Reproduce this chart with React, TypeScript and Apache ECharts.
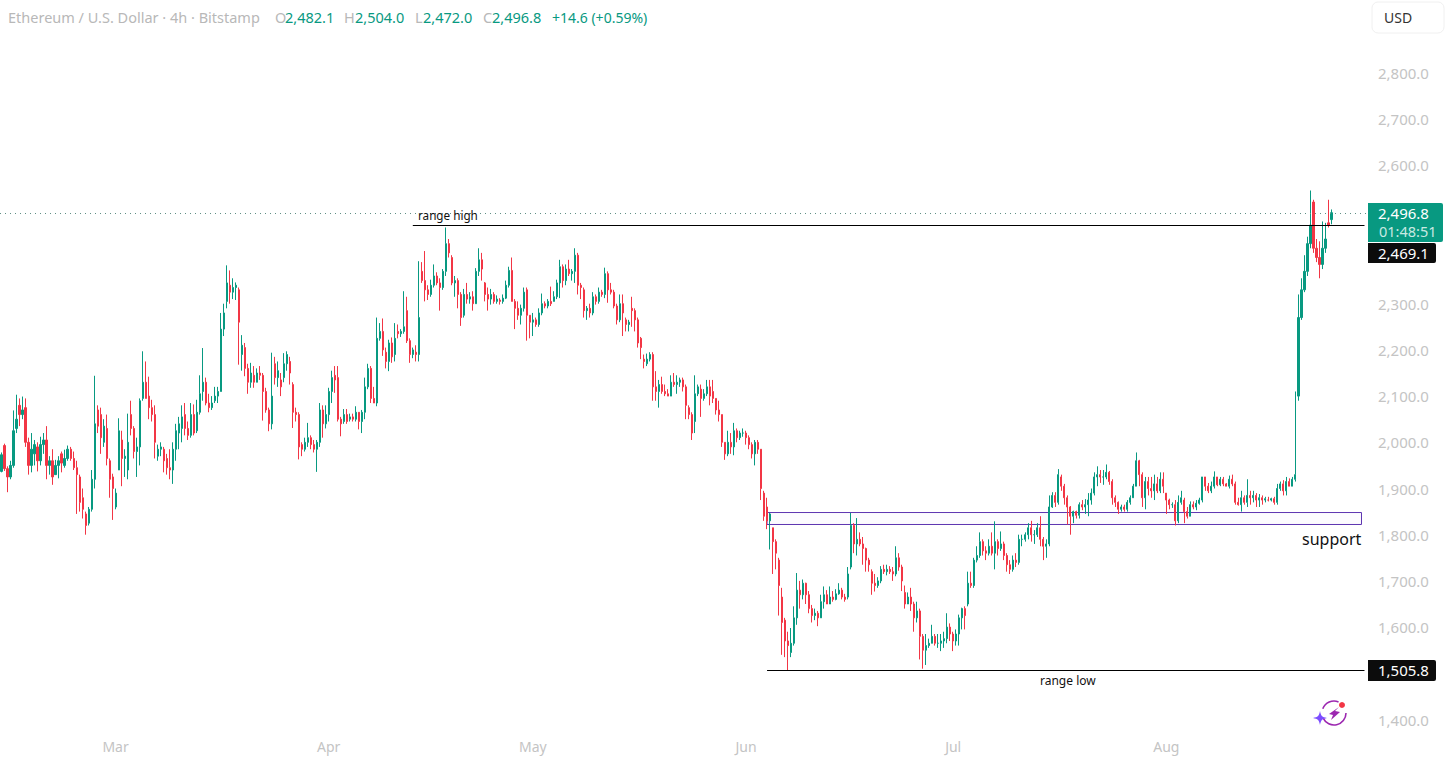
import React, { useEffect, useRef } from "react";
import * as echarts from "echarts";

// [open, close, low, high]
const febCandles = [
[1937,1973,1935,1978],[1993,1943,1938,1997],[1943,1925,1892,1948],[1925,1950,1920,1960],[1950,2025,1945,2069],[2030,2050,2020,2103],[2080,2060,2035,2095],[2060,2070,2050,2099],[2075,2000,1990,2095],[2000,1950,1930,2010],
[1950,1985,1935,2020],[1975,1995,1950,2005],[1990,1960,1937,2000],[1960,1995,1950,2012],[1995,2005,1975,2020],[2005,1950,1920,2035],[1950,1960,1930,1970],[1960,1925,1908,1985],[1930,1950,1930,1962],[1950,1960,1922,1970],
[1975,1955,1935,1980],[1950,1965,1945,1984],[1965,1985,1960,1993],[1985,1965,1960,1990],[1965,1945,1940,1980],[1945,1930,1845,1960],[1925,1870,1850,1930],[1880,1855,1835,1900],[1845,1820,1800,1850],[1825,1855,1820,1860],
[1855,1920,1850,1940],[1920,2040,1900,2144],[2070,2035,2020,2080],[2060,2010,1975,2075],[2000,2035,1990,2050],[2030,1965,1950,2060],[1960,1920,1880,1965],[1925,1900,1832,1932],
];
const marCandles = [
[1860,1890,1855,1900],[1940,2025,1940,2052],[2005,1965,1905,2025],[1965,1970,1925,1985],[1940,2000,1920,2062],[2060,2030,2015,2090],[2030,1980,1965,2035],[1980,1990,1925,2010],[1990,2090,1950,2095],[2095,2130,2090,2197],
[2130,2095,2095,2175],[2100,2075,2050,2142],[2075,2060,2045,2092],[2060,2000,1965,2080],[1970,1985,1960,1995],[1985,1990,1970,2000],[1985,1960,1935,1990],[1965,1945,1930,1975],[1945,1940,1920,1985],[1940,1985,1910,2000],
[1985,2025,1960,2040],[2020,2040,1985,2055],[2030,2055,2000,2080],[2060,2030,2015,2085],[2030,2015,2005,2045],[2015,2060,2010,2085],[2060,2020,2015,2082],[2025,2065,2020,2092],[2065,2105,2060,2145],[2110,2130,2090,2204],
[2130,2085,2080,2140],[2085,2075,2065,2105],[2075,2085,2070,2100],[2090,2100,2085,2120],[2100,2110,2085,2120],[2110,2245,2110,2280],[2245,2280,2230,2300],[2305,2345,2290,2383],[2340,2325,2300,2372],[2325,2335,2310,2355],
[2335,2340,2308,2346],[2330,2260,2168,2335],[2190,2210,2155,2232],[2205,2160,2143,2215],[2160,2130,2105,2170],[2130,2150,2118,2172],[2145,2130,2118,2165],[2130,2150,2130,2160],[2150,2145,2135,2165],[2145,2110,2047,2150],
[2110,2070,2064,2118],[2070,2040,2024,2075],[2040,2100,2028,2194],[2170,2140,2125,2185],[2140,2155,2120,2175],[2135,2120,2100,2150],[2140,2170,2130,2193],[2170,2190,2155,2197],[2175,2150,2125,2185],[2125,2065,2031,2130],
[2065,2060,2045,2075],[2060,1990,1963,2065],[1995,1985,1970,2000],[1985,2000,1980,2010],[2000,2010,1990,2042],[2010,1995,1985,2015],[1995,1985,1978,2005],[1985,2000,1936,2005],[2000,2070,1990,2085],[2070,2040,2010,2080],
[2040,2060,2030,2080],
];
const aprCandles = [
[2060,2110,2045,2118],[2110,2140,2085,2155],[2145,2135,2107,2165],[2140,2050,2045,2165],[2050,2040,2013,2055],[2045,2060,2040,2072],[2060,2045,2040,2072],[2050,2055,2045,2062],[2055,2050,2045,2062],[2050,2065,2045,2078],
[2065,2045,2028,2065],[2045,2065,2020,2070],[2065,2120,2050,2140],[2120,2160,2115,2170],[2160,2095,2085,2165],[2095,2085,2085,2120],[2085,2225,2078,2270],[2225,2240,2220,2258],[2240,2200,2187,2268],[2195,2175,2160,2205],
[2175,2215,2154,2222],[2215,2185,2172,2227],[2190,2225,2175,2258],[2240,2235,2225,2255],[2235,2240,2228,2245],[2240,2250,2235,2327],[2285,2220,2215,2315],[2220,2190,2172,2225],[2190,2200,2182,2205],[2195,2190,2175,2210],
[2190,2270,2175,2392],[2370,2350,2345,2390],[2350,2330,2305,2414],[2330,2320,2308,2340],[2320,2340,2315,2352],[2340,2360,2335,2385],[2360,2345,2340,2368],[2345,2335,2285,2355],[2335,2370,2330,2375],[2370,2430,2360,2465],
[2430,2410,2400,2440],[2400,2345,2340,2405],[2345,2350,2315,2360],[2350,2320,2290,2355],[2320,2270,2252,2325],[2275,2320,2270,2332],[2320,2310,2300,2345],[2310,2315,2300,2325],[2315,2300,2285,2327],[2300,2370,2300,2377],
[2370,2395,2360,2420],[2395,2375,2350,2410],[2345,2320,2305,2347],[2320,2310,2285,2335],[2310,2320,2298,2332],[2320,2305,2300,2325],[2305,2310,2300,2318],[2308,2305,2298,2312],[2305,2312,2300,2320],[2312,2340,2310,2350],
[2340,2372,2335,2380],[2372,2305,2305,2400],[2305,2290,2245,2310],[2290,2275,2265,2305],[2275,2290,2255,2298],[2290,2325,2283,2335],[2330,2275,2220,2335],[2275,2260,2225,2275],
];
const mayCandles = [
[2260,2265,2230,2280],[2265,2255,2250,2270],[2255,2280,2250,2290],[2280,2300,2275,2322],[2300,2295,2290,2305],[2295,2305,2290,2310],[2305,2300,2295,2337],[2305,2315,2305,2327],[2315,2345,2310,2352],[2345,2380,2312,2395],
[2380,2350,2335,2385],[2350,2375,2340,2385],[2375,2365,2360,2395],[2365,2370,2350,2375],[2370,2405,2345,2420],[2405,2340,2320,2410],[2340,2335,2310,2345],[2330,2285,2270,2335],[2285,2290,2265,2295],[2290,2280,2270,2300],
[2280,2315,2275,2325],[2315,2305,2298,2320],[2305,2325,2300,2335],[2325,2320,2315,2330],[2320,2365,2312,2378],[2365,2330,2302,2370],[2330,2325,2320,2345],[2325,2295,2290,2330],[2295,2265,2255,2300],[2265,2300,2260,2320],
[2300,2280,2230,2320],[2265,2255,2240,2270],[2255,2260,2240,2265],[2290,2285,2250,2315],[2285,2265,2240,2290],[2265,2215,2205,2270],[2225,2205,2180,2228],[2180,2175,2160,2190],[2170,2180,2165,2192],[2180,2190,2175,2195],
[2190,2120,2090,2195],[2120,2110,2090,2154],[2110,2125,2075,2135],[2125,2110,2105,2142],[2110,2105,2100,2125],[2105,2100,2100,2115],[2100,2130,2100,2145],[2130,2125,2120,2150],[2125,2130,2105,2145],[2130,2135,2120,2140],
[2135,2120,2110,2140],[2120,2080,2050,2125],[2075,2060,2050,2080],[2060,2020,2005,2065],[2045,2105,2020,2145],[2105,2120,2100,2125],[2115,2095,2055,2125],[2095,2105,2090,2115],[2105,2120,2100,2135],[2120,2100,2080,2135],
[2110,2095,2085,2135],[2095,2070,2060,2095],[2070,2060,2045,2090],[2060,2000,1990,2060],[2000,1975,1962,2000],[1975,2000,1970,2025],[2000,1990,1975,2020],[1990,2025,1972,2042],[2025,2010,2000,2030],[2010,2020,2005,2025],
[2020,2020,2012,2030],
];
const junCandles = [
[2020,2010,1995,2025],[2010,1995,1985,2015],[1995,1975,1965,2000],[1975,2000,1950,2005],[2000,1985,1975,2005],[1985,1900,1875,1985],[1890,1840,1830,1895],[1860,1830,1812,1880],[1830,1845,1768,1847],[1815,1785,1715,1815],
[1785,1760,1725,1790],[1745,1690,1625,1750],[1665,1610,1540,1685],[1615,1570,1535,1620],[1570,1560,1505,1590],[1545,1565,1535,1598],[1565,1620,1560,1645],[1620,1680,1605,1717],[1680,1670,1640,1700],[1670,1695,1660,1703],
[1695,1670,1650,1696],[1670,1640,1630,1678],[1640,1625,1610,1648],[1625,1630,1615,1640],[1630,1620,1602,1635],[1620,1655,1620,1670],[1655,1670,1640,1688],[1670,1650,1650,1680],[1650,1665,1650,1688],[1665,1660,1655,1678],
[1660,1672,1658,1682],[1672,1680,1670,1695],[1680,1665,1660,1685],[1665,1660,1655,1672],[1665,1715,1660,1730],[1730,1820,1725,1847],[1820,1780,1760,1825],[1780,1790,1755,1836],[1790,1780,1775,1805],[1780,1770,1735,1795],
[1770,1745,1720,1772],[1745,1735,1720,1750],[1720,1695,1670,1725],[1695,1690,1677,1715],[1690,1700,1685,1708],[1700,1725,1695,1732],[1725,1720,1715,1735],[1720,1725,1712,1735],[1725,1720,1715,1732],[1720,1715,1700,1730],
[1715,1750,1710,1775],[1750,1730,1722,1760],[1730,1700,1678,1735],[1675,1650,1640,1690],[1650,1665,1650,1675],[1665,1650,1635,1685],[1650,1620,1590,1655],[1620,1635,1610,1655],[1635,1580,1530,1640],[1580,1550,1510,1585],
[1550,1560,1518,1585],[1560,1565,1555,1575],[1565,1580,1565,1605],[1580,1565,1560,1585],[1565,1565,1555,1585],[1565,1570,1548,1585],[1570,1575,1555,1590],[1575,1600,1565,1630],[1600,1585,1570,1608],
];
const julCandles = [
[1585,1570,1548,1590],[1570,1585,1560,1595],[1585,1620,1560,1627],[1620,1640,1595,1642],[1640,1625,1595,1645],[1650,1695,1645,1720],[1695,1690,1685,1720],[1690,1745,1685,1750],[1745,1755,1740,1775],[1755,1785,1750,1805],
[1785,1765,1755,1790],[1765,1760,1745,1775],[1760,1775,1755,1790],[1775,1760,1755,1805],[1760,1785,1725,1829],[1785,1770,1755,1790],[1770,1780,1765,1807],[1780,1755,1745,1785],[1755,1735,1720,1760],[1735,1725,1715,1745],
[1725,1745,1720,1755],[1745,1740,1730,1760],[1740,1790,1735,1800],[1790,1790,1775,1800],[1790,1800,1785,1805],[1800,1815,1790,1825],[1815,1800,1785,1830],[1800,1800,1780,1810],[1800,1815,1795,1825],[1815,1790,1775,1840],
[1790,1775,1745,1795],[1775,1780,1750,1790],[1780,1860,1775,1885],[1860,1885,1858,1892],[1885,1870,1860,1892],[1870,1930,1865,1942],[1925,1905,1895,1930],[1905,1880,1865,1910],[1880,1860,1822,1885],[1860,1840,1800,1862],
[1840,1850,1825,1852],[1850,1842,1835,1852],[1842,1865,1835,1870],[1865,1860,1853,1875],[1860,1865,1845,1877],[1865,1875,1840,1890],[1875,1890,1865,1900],[1890,1925,1885,1935],[1925,1930,1905,1948],[1930,1925,1912,1940],
[1925,1925,1908,1940],[1925,1935,1920,1952],[1935,1915,1908,1938],[1915,1880,1865,1920],[1880,1870,1860,1885],[1870,1855,1845,1872],[1855,1860,1850,1865],[1860,1855,1850,1865],[1855,1870,1850,1875],[1870,1880,1865,1885],
[1880,1905,1880,1910],[1905,1960,1905,1978],[1960,1930,1905,1962],[1930,1880,1860,1935],[1880,1915,1855,1925],[1915,1900,1885,1925],[1900,1895,1880,1925],[1895,1910,1875,1930],[1910,1895,1890,1925],[1895,1920,1890,1935],
[1920,1905,1890,1935],
];
const augCandles = [
[1890,1875,1845,1890],[1875,1865,1855,1878],[1865,1865,1858,1870],[1865,1830,1820,1875],[1830,1870,1825,1885],[1870,1880,1865,1895],[1875,1850,1825,1880],[1850,1840,1835,1860],[1840,1865,1840,1872],[1865,1860,1855,1872],
[1860,1868,1853,1875],[1868,1875,1865,1880],[1875,1925,1870,1925],[1925,1905,1895,1925],[1905,1895,1890,1912],[1895,1905,1890,1915],[1905,1925,1900,1937],[1925,1908,1905,1925],[1908,1920,1905,1925],[1920,1910,1905,1925],
[1910,1905,1905,1912],[1905,1920,1900,1928],[1920,1910,1905,1930],[1910,1870,1865,1915],[1870,1865,1863,1880],[1865,1880,1850,1895],[1880,1870,1865,1885],[1870,1885,1860,1920],[1885,1880,1865,1895],[1880,1885,1870,1895],
[1885,1875,1860,1890],[1875,1880,1860,1888],[1880,1875,1865,1885],[1875,1878,1870,1882],[1875,1875,1872,1882],[1875,1878,1872,1880],[1878,1870,1865,1882],[1870,1900,1865,1910],[1900,1910,1895,1915],
[1910,1895,1885,1918],[1895,1915,1885,1925],[1915,1905,1905,1922],[1905,1920,1905,1925],
[1920,1930,1915,2110],[2100,2270,2090,2320],[2270,2330,2265,2355],[2330,2370,2325,2405],[2370,2430,2360,2445],[2430,2470,2420,2545],[2520,2420,2410,2525],[2420,2400,2390,2440],[2400,2385,2355,2435],[2385,2420,2375,2478],
[2420,2440,2410,2475],[2475,2470,2465,2525],[2482,2497,2472,2504],
];

const monthNames = ["Feb", "Mar", "Apr", "May", "Jun", "Jul", "Aug"];
const monthLabels = ["", "Mar", "Apr", "May", "Jun", "Jul", "Aug"];
const months = [febCandles, marCandles, aprCandles, mayCandles, junCandles, julCandles, augCandles];
const yTicks = [1400, 1600, 1700, 1800, 1900, 2000, 2100, 2200, 2300, 2600, 2700, 2800];
const lastPrice = 2496.8;
const rangeHigh = 2469.1;
const rangeLow = 1505.8;
const supportTop = 1848;
const supportBottom = 1822.1;
const totalSlots = 455;

const UP = "#089981";
const DOWN = "#f23645";
const FONT = "'Noto Sans', sans-serif";
const GREY = "#c4c4c4";

echarts.graphic.registerShape(
  "rhStar",
  echarts.graphic.extendPath("M0,-7 C1,-2 2,-1 7,0 C2,1 1,2 0,7 C-1,2 -2,1 -7,0 C-2,-1 -1,-2 0,-7 Z", {}) as any
);

export default function App() {
  const ref = useRef<HTMLDivElement>(null);
  useEffect(() => {
    const chart = echarts.init(ref.current!, undefined, { renderer: "svg" });
    const candles = months.flat();
    const labelAt = new Map<number, string>();
    let n = 0;
    const categories: string[] = [];
    months.forEach((m, mi) => {
      labelAt.set(n, monthLabels[mi]);
      m.forEach((_, d) => categories.push(`${monthNames[mi]} ${d + 1}`));
      n += m.length;
    });
    while (categories.length < totalSlots) categories.push(`Sep ${categories.length}`);
    const startSupport = 255;
    const endAll = totalSlots - 1;
    const rangeHighStart = 137;

    const txt = (x: number, y: number, text: string, fill: string, fontSize = 14.5, extra: any = {}) => ({
      type: "text",
      x,
      y,
      silent: true,
      z: 20,
      style: { text, fill, fontSize, fontFamily: FONT, textVerticalAlign: "middle", verticalAlign: "middle", ...extra },
    });
    const tag = (x: number, y: number, w: number, h: number, fill: string) => ({
      type: "rect",
      silent: true,
      z: 15,
      shape: { x, y, width: w, height: h, r: [0, 2, 2, 0] },
      style: { fill },
    });

    chart.setOption({
      animation: false,
      backgroundColor: "#ffffff",
      grid: { left: 0, top: 26.5, width: 1366, height: 693, containLabel: false },
      xAxis: {
        type: "category",
        data: categories,
        boundaryGap: true,
        axisLine: { show: false },
        axisTick: { show: false },
        splitLine: { show: false },
        axisLabel: {
          interval: (i: number) => labelAt.has(i) && labelAt.get(i) !== "",
          formatter: (_: string, i: number) => labelAt.get(i) ?? "",
          color: GREY,
          fontSize: 14,
          fontFamily: FONT,
          margin: 20,
        },
      },
      yAxis: {
        type: "value",
        position: "right",
        min: 1400,
        max: 2900,
        interval: 100,
        scale: true,
        axisLine: { show: false },
        axisTick: { show: false },
        splitLine: { show: false },
        axisLabel: {
          customValues: yTicks,
          formatter: (v: number) => v.toLocaleString("en-US", { minimumFractionDigits: 1, maximumFractionDigits: 1 }),
          color: GREY,
          fontSize: 15,
          fontFamily: FONT,
          margin: 12,
          padding: [3, 0, 0, 0],
        },
      },
      series: [
        {
          type: "candlestick",
          data: candles,
          barWidth: 1.6,
          silent: true,
          itemStyle: { color: UP, color0: DOWN, borderColor: UP, borderColor0: DOWN, borderWidth: 1 },
          markLine: {
            silent: true,
            symbol: "none",
            label: { show: false },
            data: [
              { yAxis: lastPrice, lineStyle: { color: "#5f8f85", type: [1, 4], width: 1 } },
              [
                { coord: [rangeHighStart, rangeHigh], lineStyle: { color: "#000000", type: "solid", width: 1 } },
                { coord: [endAll, rangeHigh] },
              ],
              [
                { coord: [startSupport, rangeLow], lineStyle: { color: "#000000", type: "solid", width: 1 } },
                { coord: [endAll, rangeLow] },
              ],
            ],
          },
          markArea: {
            silent: true,
            label: { show: false },
            itemStyle: { color: "rgba(103,58,183,0.02)", borderColor: "#5e35b1", borderWidth: 1 },
            data: [[{ coord: [startSupport, supportTop] }, { coord: [endAll - 1, supportBottom] }]],
          },
        },
      ],
      graphic: [
        txt(8, 17, "Ethereum / U.S. Dollar · 4h · Bitstamp", "#b8b8b8"),
        txt(275, 17, "O", "#b8b8b8"),
        txt(285, 17, "2,482.1", UP),
        txt(344, 17, "H", "#b8b8b8"),
        txt(355, 17, "2,504.0", UP),
        txt(415, 17, "L", "#b8b8b8"),
        txt(423, 17, "2,472.0", UP),
        txt(483, 17, "C", "#b8b8b8"),
        txt(492, 17, "2,496.8", UP),
        txt(552, 17, "+14.6 (+0.59%)", UP, 14),
        {
          type: "rect",
          silent: true,
          z: 15,
          shape: { x: 1372, y: 2, width: 72, height: 31, r: 6 },
          style: { fill: "#ffffff", stroke: "#f0f0f0", lineWidth: 1 },
        },
        txt(1384, 17, "USD", "#333333", 14),
        tag(1368, 203, 75, 39, UP),
        tag(1368, 243, 68, 20, "#0c0c0c"),
        tag(1368, 660, 68, 21, "#0c0c0c"),
        txt(1378, 213, "2,496.8", "#ffffff", 15),
        txt(1379, 231, "01:48:51", "#c8e9e2", 14.5),
        txt(1378, 253, "2,469.1", "#ffffff", 15),
        txt(1378, 670, "1,505.8", "#ffffff", 15),
        txt(418, 215, "range high", "#111111", 11.7),
        txt(1040, 680, "range low", "#111111", 12),
        txt(1302, 539, "support", "#111111", 16),
        {
          type: "arc",
          silent: true,
          z: 15,
          shape: { cx: 1334, cy: 713, r: 12, startAngle: 0.0, endAngle: 2.7, clockwise: true },
          style: { fill: "none", stroke: "#9c27b0", lineWidth: 1.6 },
        },
        {
          type: "arc",
          silent: true,
          z: 15,
          shape: { cx: 1334, cy: 713, r: 12, startAngle: 3.5, endAngle: 5.1, clockwise: true },
          style: { fill: "none", stroke: "#9c27b0", lineWidth: 1.6 },
        },
        {
          type: "polygon",
          silent: true,
          z: 15,
          shape: { points: [[1339, 707], [1329, 714], [1333, 715], [1331, 720], [1340, 712], [1335, 711]] },
          style: { fill: "#9c27b0" },
        },
        { type: "circle", silent: true, z: 15, shape: { cx: 1342, cy: 705, r: 3 }, style: { fill: "#f23645" } },
        { type: "rhStar", x: 1320, y: 718, silent: true, z: 15, style: { fill: "#7c4dff" } },
      ],
    } as any);
    return () => chart.dispose();
  }, []);
  return <div ref={ref} style={{ position: "fixed", left: 0, top: 0, width: 1447, height: 763 }} />;
}
